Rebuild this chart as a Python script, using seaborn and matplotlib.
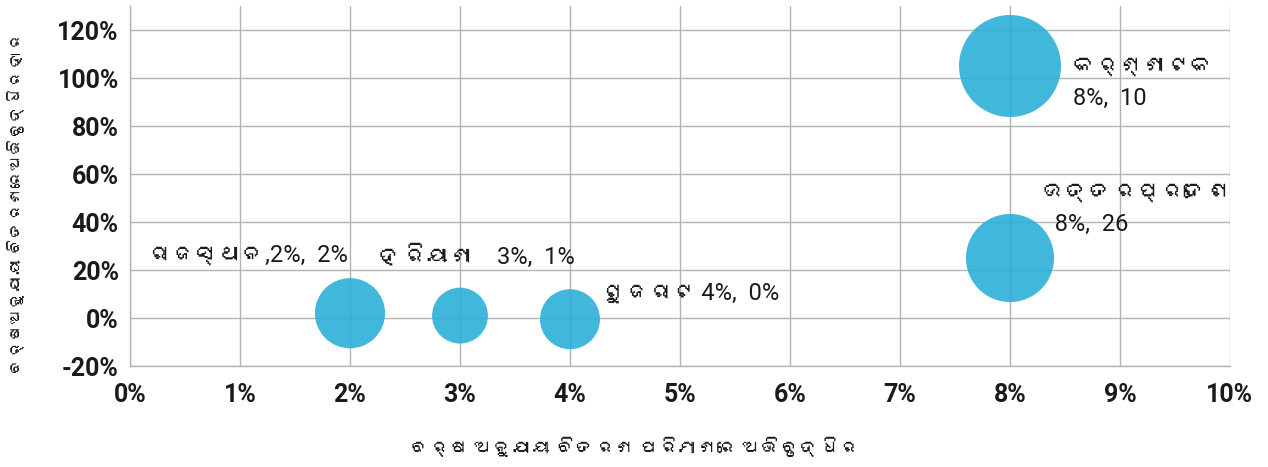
import matplotlib
matplotlib.use("Agg")
import matplotlib.pyplot as plt
import seaborn as sns
import pandas as pd
from matplotlib import font_manager
from matplotlib.ft2font import FT2Font
from matplotlib.ticker import PercentFormatter, MultipleLocator

states = ["ରାଜସ୍ଥାନ", "ହରିୟାଣା", "ଗୁଜରାଟ", "କର୍ଣ୍ଣାଟକ", "ଉତ୍ତରପ୍ରଦେଶ"]
volume_growth = [0.02, 0.03, 0.04, 0.08, 0.08]
value_growth = [0.02, 0.01, -0.005, 1.05, 0.25]
bubble_size = [12.3, 7.8, 9.0, 26.0, 19.4]
point_labels = ["ରାଜସ୍ଥାନ,2%,  2%", "ହରିୟାଣା    3%,  1%", "ଗୁଜରାଟ 4%,  0%",
                "କର୍ଣ୍ଣାଟକ\n8%,  10", "ଉତ୍ତରପ୍ରଦେଶ\n  8%,  26"]
x_title = "ବର୍ଷ ଅନୁଯାୟୀ ବିତରଣ ପରିମାଣରେ ଅଭିବୃଦ୍ଧିର"
y_title = "ବର୍ଷଅନୁଯାୟୀ ବିତରଣରେଅଭିବୃଦ୍ଧିର ହାର"

# look for an installed family that covers the Odia block
odia_families = []
paths = set(f.fname for f in font_manager.fontManager.ttflist)
try:
    paths |= set(font_manager.findSystemFonts())
except Exception:
    pass
for p in sorted(paths):
    try:
        ft = FT2Font(p)
        cmap = ft.get_charmap()
        if 0x0B15 in cmap and 0x0B30 in cmap:
            try:
                font_manager.fontManager.addfont(p)
            except Exception:
                pass
            name = font_manager.FontProperties(fname=p).get_name()
            if name not in odia_families:
                odia_families.append(name)
    except Exception:
        continue

df = pd.DataFrame({"state": states, "x": volume_growth, "y": value_growth, "size": bubble_size})

sns.set_theme(style="whitegrid")
plt.rcParams["font.family"] = ["Roboto"] + odia_families + ["Noto Sans", "DejaVu Sans"]
plt.rcParams["axes.unicode_minus"] = False

fig = plt.figure(figsize=(12.68, 4.67), dpi=100)
ax = fig.add_axes([130 / 1268, 1 - 366 / 467, 1100 / 1268, 360 / 467])

sns.scatterplot(data=df, x="x", y="y", size="size", sizes=(0, 5390), size_norm=(0, 26),
                color="#2cafd8", alpha=0.9, edgecolor="none", legend=False, ax=ax, zorder=3)

ax.set_xlim(0, 0.10)
ax.set_ylim(-0.2, 1.3)
ax.xaxis.set_major_locator(MultipleLocator(0.01))
ax.xaxis.set_major_formatter(PercentFormatter(1.0, decimals=0))
ax.yaxis.set_major_formatter(PercentFormatter(1.0, decimals=0))
ax.set_yticks([-0.2, 0, 0.2, 0.4, 0.6, 0.8, 1.0, 1.2])

ax.grid(True, color="#b3b3b3", linewidth=1)
ax.set_axisbelow(True)
for s in ["top", "right"]:
    ax.spines[s].set_visible(False)
for s in ["left", "bottom"]:
    ax.spines[s].set_visible(True)
    ax.spines[s].set_color("#b3b3b3")
    ax.spines[s].set_linewidth(1)

ax.tick_params(axis="x", length=0, pad=12, labelsize=18, colors="#1a1a1a")
ax.tick_params(axis="y", length=0, pad=8, labelsize=18, colors="#1a1a1a")
for t in ax.get_xticklabels() + ax.get_yticklabels():
    t.set_fontweight("bold")

ax.set_xlabel(x_title, fontsize=14, color="#1a1a1a")
ax.xaxis.set_label_coords(0.458, -0.2)
ax.set_ylabel(y_title, fontsize=12, color="#1a1a1a")
ax.yaxis.set_label_coords(-0.095, 0.45)

offsets = [(-103, 58, "center"), (17, 59, "center"), (31, 26, "left"), (63, -16, "left"), (33, 50, "left")]
for xv, yv, lab, (dx, dy, ha) in zip(volume_growth, value_growth, point_labels, offsets):
    ax.annotate(lab, (xv, yv), xytext=(dx * 0.72, dy * 0.72), textcoords="offset points",
                ha=ha, va="center", fontsize=17, color="#1a1a1a", linespacing=1.5)

fig.savefig("out.png", dpi=100)
